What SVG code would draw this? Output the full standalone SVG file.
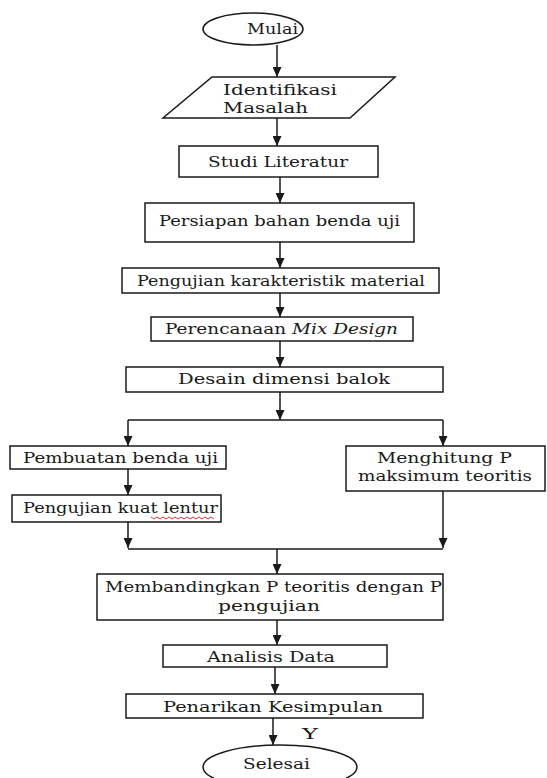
<svg xmlns="http://www.w3.org/2000/svg" width="547" height="778" viewBox="0 0 547 778">
<style>
.b{fill:#fff;stroke:#1a1a1a;stroke-width:1.5}
.t{font-family:"DejaVu Serif","Liberation Serif",serif;font-size:15.5px;fill:#1a1a1a}
.s{font-size:14.5px}
.c{fill:none;stroke:#1a1a1a;stroke-width:1.5}
</style>
<defs>
<marker id="ar" markerUnits="userSpaceOnUse" markerWidth="10" markerHeight="9" refX="10" refY="4.5" orient="auto">
<path d="M0,0 L10,4.5 L0,9 z" fill="#1a1a1a"/>
</marker>
</defs>
<rect width="547" height="778" fill="#fff"/>
<g id="connectors">
<line class="c" x1="277" y1="45" x2="277" y2="77" marker-end="url(#ar)"/>
<line class="c" x1="277" y1="118" x2="277" y2="146" marker-end="url(#ar)"/>
<line class="c" x1="280" y1="177" x2="280" y2="203" marker-end="url(#ar)"/>
<line class="c" x1="280" y1="242" x2="280" y2="268" marker-end="url(#ar)"/>
<line class="c" x1="280" y1="293" x2="280" y2="317" marker-end="url(#ar)"/>
<line class="c" x1="280" y1="341" x2="280" y2="367" marker-end="url(#ar)"/>
<line class="c" x1="280" y1="392" x2="280" y2="420" marker-end="url(#ar)"/>
<line class="c" x1="128" y1="420" x2="443" y2="420"/>
<line class="c" x1="128" y1="420" x2="128" y2="446" marker-end="url(#ar)"/>
<line class="c" x1="443" y1="420" x2="443" y2="446" marker-end="url(#ar)"/>
<line class="c" x1="128" y1="469" x2="128" y2="495" marker-end="url(#ar)"/>
<line class="c" x1="128" y1="522" x2="128" y2="548" marker-end="url(#ar)"/>
<line class="c" x1="443" y1="491" x2="443" y2="548" marker-end="url(#ar)"/>
<line class="c" x1="128" y1="549" x2="443" y2="549"/>
<line class="c" x1="277" y1="549" x2="277" y2="574" marker-end="url(#ar)"/>
<line class="c" x1="277" y1="620" x2="277" y2="645" marker-end="url(#ar)"/>
<line class="c" x1="275" y1="667" x2="275" y2="694" marker-end="url(#ar)"/>
<line class="c" x1="273" y1="718" x2="273" y2="745" marker-end="url(#ar)"/>
<text class="t" x="302" y="739" textLength="16" lengthAdjust="spacingAndGlyphs">Y</text>
</g>
<g id="mulai">
<ellipse class="b" cx="253" cy="29" rx="50" ry="16"/>
<text class="t" x="247" y="34" textLength="51" lengthAdjust="spacingAndGlyphs">Mulai</text>
</g>
<g id="identifikasi">
<polygon class="b" points="212,77 395,77 350,118 163,118"/>
<text class="t s" x="223" y="95" textLength="114" lengthAdjust="spacingAndGlyphs">Identifikasi</text>
<text class="t s" x="223" y="113" textLength="85" lengthAdjust="spacingAndGlyphs">Masalah</text>
</g>
<g id="studi">
<rect class="b" x="179" y="146" width="199" height="31"/>
<text class="t" x="208" y="167" textLength="140" lengthAdjust="spacingAndGlyphs">Studi Literatur</text>
</g>
<g id="persiapan">
<rect class="b" x="145" y="203" width="269" height="39"/>
<text class="t" x="159" y="226" textLength="241" lengthAdjust="spacingAndGlyphs">Persiapan bahan benda uji</text>
</g>
<g id="karakteristik">
<rect class="b" x="122" y="268" width="317" height="25"/>
<text class="t" x="137" y="286" textLength="288" lengthAdjust="spacingAndGlyphs">Pengujian karakteristik material</text>
</g>
<g id="mixdesign">
<rect class="b" x="151" y="317" width="262" height="24"/>
<text class="t" x="165" y="334" textLength="233" lengthAdjust="spacingAndGlyphs">Perencanaan<tspan font-style="italic"> Mix Design</tspan></text>
</g>
<g id="desain">
<rect class="b" x="126" y="367" width="317" height="25"/>
<text class="t" x="178" y="384" textLength="212" lengthAdjust="spacingAndGlyphs">Desain dimensi balok</text>
</g>
<g id="pembuatan">
<rect class="b" x="10" y="446" width="216" height="23"/>
<text class="t" x="23" y="463" textLength="195" lengthAdjust="spacingAndGlyphs">Pembuatan benda uji</text>
</g>
<g id="kuatlentur">
<rect class="b" x="12" y="495" width="209" height="27"/>
<text class="t" x="23" y="513" textLength="195" lengthAdjust="spacingAndGlyphs">Pengujian kuat lentur</text>
<path d="M151,517 l3,2 l3,-2 l3,2 l3,-2 l3,2 l3,-2 l3,2 l3,-2 l3,2 l3,-2 l3,2 l3,-2 l3,2 l3,-2 l3,2 l3,-2 l3,2 l3,-2 l3,2 l3,-2 l3,2" fill="none" stroke="#e03030" stroke-width="1"/>
</g>
<g id="menghitung">
<rect class="b" x="346" y="446" width="199" height="45"/>
<text class="t s" x="377" y="463" textLength="135" lengthAdjust="spacingAndGlyphs">Menghitung P</text>
<text class="t s" x="358" y="481" textLength="174" lengthAdjust="spacingAndGlyphs">maksimum teoritis</text>
</g>
<g id="membandingkan">
<rect class="b" x="97" y="574" width="346" height="46"/>
<text class="t s" x="105" y="592" textLength="337" lengthAdjust="spacingAndGlyphs">Membandingkan P teoritis dengan P</text>
<text class="t s" x="218" y="611" textLength="102" lengthAdjust="spacingAndGlyphs">pengujian</text>
</g>
<g id="analisis">
<rect class="b" x="163" y="645" width="224" height="22"/>
<text class="t" x="207" y="662" textLength="128" lengthAdjust="spacingAndGlyphs">Analisis Data</text>
</g>
<g id="penarikan">
<rect class="b" x="126" y="694" width="297" height="24"/>
<text class="t" x="163" y="712" textLength="220" lengthAdjust="spacingAndGlyphs">Penarikan Kesimpulan</text>
</g>
<g id="selesai">
<ellipse class="b" cx="280" cy="767" rx="77" ry="22"/>
<text class="t" x="243" y="769" textLength="67" lengthAdjust="spacingAndGlyphs">Selesai</text>
</g>
</svg>
